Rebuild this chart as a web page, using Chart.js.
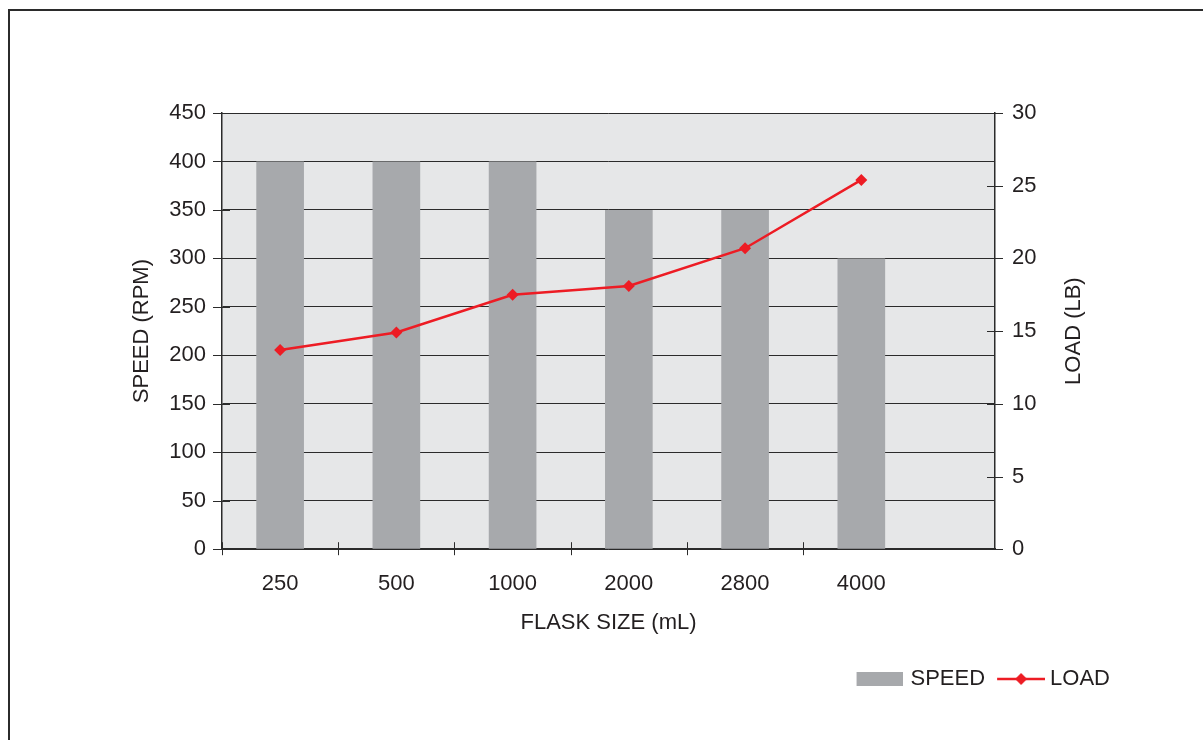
<!DOCTYPE html>
<html>
<head>
<meta charset="utf-8">
<script src="https://cdn.jsdelivr.net/npm/chart.js@4/dist/chart.umd.min.js"></script>
<style>
  html, body { margin: 0; padding: 0; background: #fff; overflow: hidden; }
  #frame { position: absolute; left: 8px; top: 9px; width: 1300px; height: 800px; border: 2px solid #2b2b2b; }
  #wrap { position: absolute; left: 0; top: 0; width: 1203px; height: 740px; }
</style>
</head>
<body>
<div id="frame"></div>
<div id="wrap"><canvas id="chart" width="1203" height="740"></canvas></div>
<script>
// data
const flaskSizes = ['250', '500', '1000', '2000', '2800', '4000'];
const speedRpm = [400, 400, 400, 350, 350, 300];
const loadLb = [13.7, 14.9, 17.5, 18.1, 20.7, 25.4];
const speedAxis = [0, 450, 50];   // min, max, step
const loadAxis = [0, 30, 5];

const BAR = '#a7a9ac';
const RED = '#ed1c24';
const INK = '#231f20';
const FONT = '"Liberation Sans", Arial, Helvetica, sans-serif';

function makeIcon(w, h, draw) {
  const c = document.createElement('canvas');
  c.width = w; c.height = h;
  draw(c.getContext('2d'), w, h);
  return c;
}
// legend swatches (canvas is centred on the legend box)
const barIcon = makeIcon(52, 14, (g, w, h) => { g.fillStyle = BAR; g.fillRect(6, 0, 46, h); });
const lineIcon = makeIcon(58, 14, (g, w, h) => {
  g.strokeStyle = RED; g.lineWidth = 2.5;
  g.beginPath(); g.moveTo(10, h / 2); g.lineTo(58, h / 2); g.stroke();
  g.fillStyle = RED;
  const cx = 34, cy = h / 2;
  g.beginPath();
  g.moveTo(cx, cy - 6); g.lineTo(cx + 6, cy); g.lineTo(cx, cy + 6); g.lineTo(cx - 6, cy);
  g.closePath(); g.fill();
});

// plot background
const plotBg = {
  id: 'plotBg',
  beforeDraw(chart) {
    const a = chart.chartArea, ctx = chart.ctx;
    ctx.save();
    ctx.fillStyle = '#e6e7e8';
    ctx.fillRect(a.left, a.top, a.right - a.left, a.bottom - a.top);
    ctx.restore();
  }
};

// tick marks that cross the axis lines + right title read bottom-to-top
const crossTicks = {
  id: 'crossTicks',
  afterDraw(chart) {
    const ctx = chart.ctx, s = chart.scales, a = chart.chartArea;
    ctx.save();
    ctx.strokeStyle = '#2b2b2b';
    ctx.lineWidth = 1;
    const left = a.left, right = a.right, bottom = a.bottom;
    for (let v = speedAxis[0]; v <= speedAxis[1]; v += speedAxis[2]) {
      const y = Math.round(s.y.getPixelForValue(v)) + 0.5;
      ctx.beginPath(); ctx.moveTo(left - 9, y); ctx.lineTo(left + 8, y); ctx.stroke();
    }
    for (let v = loadAxis[0]; v <= loadAxis[1]; v += loadAxis[2]) {
      const y = Math.round(s.y1.getPixelForValue(v)) + 0.5;
      ctx.beginPath(); ctx.moveTo(right - 8, y); ctx.lineTo(right + 8, y); ctx.stroke();
    }
    for (let i = 0; i < flaskSizes.length; i++) {
      const x = Math.round(s.x.getPixelForValue(i - 0.5)) + 0.5;
      ctx.beginPath(); ctx.moveTo(x, bottom - 7); ctx.lineTo(x, bottom + 6); ctx.stroke();
    }
    ctx.translate(s.y1.left + 79, (a.top + a.bottom) / 2);
    ctx.rotate(-Math.PI / 2);
    ctx.fillStyle = INK;
    ctx.font = '22px ' + FONT;
    ctx.textAlign = 'center';
    ctx.textBaseline = 'middle';
    ctx.fillText('LOAD (LB)', 0, 0);
    ctx.restore();
  }
};

new Chart(document.getElementById('chart'), {
  data: {
    datasets: [
      {
        type: 'bar',
        label: 'SPEED',
        data: speedRpm.map((v, i) => ({ x: i, y: v })),
        backgroundColor: BAR,
        categoryPercentage: 1,
        barPercentage: 0.41,
        yAxisID: 'y',
        order: 1
      },
      {
        type: 'line',
        label: 'LOAD',
        data: loadLb.map((v, i) => ({ x: i, y: v })),
        borderColor: RED,
        backgroundColor: RED,
        borderWidth: 2.5,
        pointStyle: 'rectRot',
        pointRadius: 6,
        pointBorderWidth: 0,
        tension: 0,
        yAxisID: 'y1',
        order: 0
      }
    ]
  },
  options: {
    responsive: false,
    animation: false,
    layout: { padding: { left: 125, right: 85, top: 113, bottom: 40 } },
    scales: {
      x: {
        type: 'linear',
        offset: false,
        min: -0.5,
        max: 6.15,
        afterBuildTicks: (axis) => { axis.ticks = flaskSizes.map((_, i) => ({ value: i })); },
        ticks: {
          callback: (v) => flaskSizes[v],
          color: INK,
          font: { family: FONT, size: 22 },
          padding: 22,
          maxRotation: 0,
          autoSkip: false
        },
        grid: { display: false, drawTicks: false, offset: false },
        border: { display: true, color: '#2b2b2b', width: 1.5 },
        title: { display: true, text: 'FLASK SIZE (mL)', color: INK, font: { family: FONT, size: 22 }, padding: { top: -10, bottom: 24 } }
      },
      y: {
        position: 'left',
        min: speedAxis[0],
        max: speedAxis[1],
        afterFit: (scale) => { scale.width = 97; },
        ticks: { stepSize: speedAxis[2], color: INK, font: { family: FONT, size: 22 }, padding: 16 },
        grid: { color: '#2b2b2b', lineWidth: 1, drawTicks: false },
        border: { display: true, color: '#2b2b2b', width: 1.5 },
        title: { display: true, text: 'SPEED (RPM)', color: INK, font: { family: FONT, size: 22 }, padding: { top: 4, bottom: 0 } }
      },
      y1: {
        position: 'right',
        min: loadAxis[0],
        max: loadAxis[1],
        afterFit: (scale) => { scale.width = 123; },
        ticks: { stepSize: loadAxis[2], color: INK, font: { family: FONT, size: 22 }, padding: 17 },
        grid: { drawOnChartArea: false, drawTicks: false },
        border: { display: true, color: '#2b2b2b', width: 1.5 }
      }
    },
    plugins: {
      legend: {
        position: 'bottom',
        align: 'end',
        labels: {
          usePointStyle: true,
          pointStyleWidth: 46,
          color: INK,
          font: { family: FONT, size: 22 },
          padding: 8,
          generateLabels: (chart) => {
            const items = Chart.defaults.plugins.legend.labels.generateLabels(chart);
            items.sort((a, b) => a.datasetIndex - b.datasetIndex);
            items.forEach(it => { it.pointStyle = it.datasetIndex === 0 ? barIcon : lineIcon; });
            return items;
          }
        }
      },
      tooltip: { enabled: false }
    }
  },
  plugins: [plotBg, crossTicks]
});
</script>
</body>
</html>
